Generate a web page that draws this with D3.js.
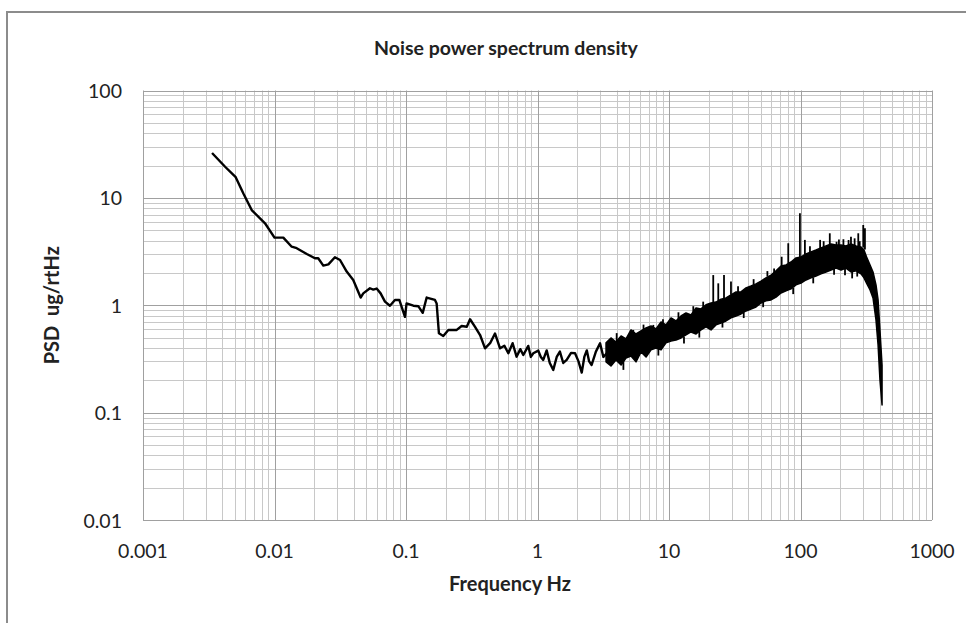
<html>
<head>
<meta charset="utf-8">
<title>Noise power spectrum density</title>
<style>
  body { margin: 0; background: #fff; }
  svg { display: block; }
  text { font-family: Lato, "Liberation Sans", sans-serif; fill: #222; }
</style>
<script src="https://d3js.org/d3.v7.min.js"></script>
</head>
<body>
<script>
// tick labels
var xTickLabels = ["0.001", "0.01", "0.1", "1", "10", "100", "1000"];
var yTickLabels = ["100", "10", "1", "0.1", "0.01"];

// thin part of the trace (Hz, ug/rtHz)
var traceFreq = [0.00335, 0.00421, 0.00507, 0.0058, 0.00671, 0.00847, 0.0100, 0.01167, 0.01352, 0.01475,
  0.0176, 0.0203, 0.0215, 0.0235, 0.0257, 0.0288, 0.0315, 0.0354, 0.0397, 0.0452,
  0.0473, 0.0532, 0.0564, 0.0598, 0.0641, 0.0692, 0.0755, 0.0824, 0.089, 0.0982,
  0.101, 0.1138, 0.124, 0.134, 0.1436, 0.166, 0.171, 0.178, 0.192, 0.210,
  0.243, 0.265, 0.290, 0.307, 0.335, 0.366, 0.399, 0.436, 0.475, 0.519,
  0.56, 0.600, 0.647, 0.693, 0.74, 0.780, 0.851, 0.89, 0.929, 1.014,
  1.06, 1.106, 1.174, 1.24, 1.318, 1.40, 1.48, 1.57, 1.667, 1.80,
  1.93, 2.05, 2.17, 2.27, 2.37, 2.47, 2.58, 2.78, 2.99, 3.17, 3.36];
var tracePsd = [26.2, 19.5, 15.6, 11.0, 7.7, 5.8, 4.26, 4.26, 3.51, 3.40,
  3.0, 2.74, 2.74, 2.34, 2.40, 2.80, 2.64, 2.06, 1.72, 1.18,
  1.29, 1.44, 1.40, 1.43, 1.29, 1.08, 0.99, 1.12, 1.12, 0.78,
  1.04, 0.99, 0.98, 0.85, 1.18, 1.12, 1.04, 0.548, 0.518, 0.589,
  0.589, 0.641, 0.63, 0.741, 0.63, 0.528, 0.397, 0.443, 0.546, 0.397,
  0.42, 0.357, 0.443, 0.332, 0.39, 0.344, 0.418, 0.33, 0.357, 0.378,
  0.33, 0.310, 0.38, 0.29, 0.250, 0.33, 0.37, 0.29, 0.31, 0.36,
  0.357, 0.30, 0.236, 0.33, 0.38, 0.30, 0.278, 0.37, 0.443, 0.33, 0.357];

// noisy band above ~3 Hz: lower and upper envelope
var bandFreq = [3.32, 3.62, 3.95, 4.32, 4.71, 5.14, 5.61, 6.13, 6.69, 7.30,
  7.96, 8.70, 9.49, 10.36, 11.30, 12.34, 13.47, 14.70, 16.05, 17.51,
  19.12, 20.87, 22.77, 24.86, 27.14, 29.62, 32.33, 35.28, 38.52, 42.04,
  45.88, 50.08, 54.65, 59.67, 65.13, 71.09, 77.59, 84.69, 92.44, 100.9,
  110.1, 120.2, 131.2, 143.2, 156.3, 170.6, 186.2, 203.3, 221.8, 242.1,
  264.3, 288.5, 304, 320, 338, 356, 375, 389, 402, 417];
var bandLo = [0.297, 0.272, 0.309, 0.278, 0.323, 0.337, 0.297, 0.367, 0.330, 0.384,
  0.400, 0.384, 0.446, 0.465, 0.475, 0.496, 0.529, 0.564, 0.540, 0.589,
  0.628, 0.589, 0.656, 0.684, 0.714, 0.762, 0.795, 0.830, 0.885, 0.924,
  0.964, 1.05, 1.10, 1.12, 1.19, 1.30, 1.36, 1.42, 1.55, 1.61,
  1.72, 1.80, 1.87, 1.96, 2.04, 2.13, 2.22, 2.13, 2.22, 2.04,
  2.09, 1.96, 1.80, 1.58, 1.39, 1.17, 0.730, 0.427, 0.202, 0.118];
var bandHi = [0.446, 0.496, 0.455, 0.518, 0.486, 0.589, 0.540, 0.576, 0.615, 0.642,
  0.602, 0.699, 0.656, 0.762, 0.714, 0.795, 0.848, 0.812, 0.944, 0.924,
  1.01, 1.05, 1.07, 1.14, 1.17, 1.25, 1.33, 1.33, 1.45, 1.51,
  1.58, 1.68, 1.80, 1.91, 2.09, 2.32, 2.37, 2.53, 2.76, 2.82,
  3.00, 3.14, 3.27, 3.42, 3.57, 3.72, 3.64, 3.64, 3.57, 3.72,
  3.57, 3.49, 3.27, 2.76, 2.37, 2.04, 1.55, 1.12, 0.589, 0.278];

// isolated spikes sticking out of the band (tip below base = dip)
var spikeFreq = [5.35, 7.6, 21.7, 23.7, 26.2, 29.6, 71.9, 80.7, 99, 108, 141, 167, 188, 212, 242, 275, 300, 309,
  4.0, 6.4, 9.0, 11.8, 15.3, 18.2, 33.5, 44, 56, 63, 118, 150, 196, 232, 258, 282,
  4.5, 8.3, 13.0, 17.0, 25.5, 37, 52, 88, 125, 180, 218, 247, 270];
var spikeBase = [0.52, 0.60, 1.05, 1.10, 1.15, 1.25, 2.30, 2.45, 2.80, 3.00, 3.35, 3.65, 3.60, 3.60, 3.70, 3.55, 3.45, 3.30,
  0.46, 0.56, 0.64, 0.74, 0.86, 0.94, 1.32, 1.55, 1.85, 1.95, 3.10, 3.45, 3.62, 3.62, 3.62, 3.50,
  0.30, 0.40, 0.51, 0.57, 0.70, 0.86, 1.08, 1.45, 1.82, 2.18, 2.18, 2.06, 2.05];
var spikePsd = [0.589, 0.656, 1.91, 1.60, 1.91, 1.66, 2.83, 3.78, 7.19, 4.06, 4.06, 4.68, 3.90, 4.12, 4.35, 4.68, 5.59, 5.20,
  0.55, 0.66, 0.74, 0.86, 0.98, 1.08, 1.50, 1.75, 2.08, 2.20, 3.55, 3.95, 4.10, 4.05, 4.20, 3.95,
  0.25, 0.34, 0.44, 0.50, 0.62, 0.76, 0.96, 1.27, 1.60, 1.92, 1.90, 1.78, 1.85];

var W = 966, H = 623;
var plot = {left: 143, right: 932, top: 90.5, bottom: 520};

var svg = d3.select("body").append("svg")
  .attr("width", W)
  .attr("height", H);

// outer chart border (right/bottom edges fall outside the picture)
svg.append("rect")
  .attr("x", 7).attr("y", 12)
  .attr("width", 1000).attr("height", 650)
  .attr("fill", "none")
  .attr("stroke", "#8c8c8c")
  .attr("stroke-width", 2);

var x = d3.scaleLog().domain([0.001, 1000]).range([plot.left, plot.right]);
var y = d3.scaleLog().domain([0.01, 100]).range([plot.bottom, plot.top]);

var crisp = v => Math.round(v) + 0.5;

// grid: minor lines at 2..9 in each decade, then majors on decades
var xDecades = xTickLabels.map(Number);
var yDecades = yTickLabels.map(Number);
var xMinor = [], yMinor = [];
xDecades.slice(0, -1).forEach(d => { for (var k = 2; k < 10; k++) xMinor.push(d * k); });
yDecades.slice(1).forEach(d => { for (var k = 2; k < 10; k++) yMinor.push(d * k); });

var grid = svg.append("g");
grid.selectAll(".xmin").data(xMinor).enter().append("line")
  .attr("x1", d => crisp(x(d))).attr("x2", d => crisp(x(d)))
  .attr("y1", plot.top).attr("y2", plot.bottom)
  .attr("stroke", "#c8c8c8");
grid.selectAll(".ymin").data(yMinor).enter().append("line")
  .attr("y1", d => crisp(y(d))).attr("y2", d => crisp(y(d)))
  .attr("x1", plot.left).attr("x2", plot.right)
  .attr("stroke", "#c8c8c8");
grid.selectAll(".xmaj").data(xDecades).enter().append("line")
  .attr("x1", d => crisp(x(d))).attr("x2", d => crisp(x(d)))
  .attr("y1", plot.top).attr("y2", plot.bottom)
  .attr("stroke", "#a0a0a0");
grid.selectAll(".ymaj").data(yDecades).enter().append("line")
  .attr("y1", d => crisp(y(d))).attr("y2", d => crisp(y(d)))
  .attr("x1", plot.left).attr("x2", plot.right)
  .attr("stroke", "#a0a0a0");

// tick labels
svg.selectAll(".xlab").data(xTickLabels).enter().append("text")
  .attr("x", d => x(+d))
  .attr("y", 558)
  .attr("text-anchor", "middle")
  .style("font-size", "19.5px")
  .text(d => d);
svg.selectAll(".ylab").data(yTickLabels).enter().append("text")
  .attr("x", 122)
  .attr("y", d => y(+d) + 7.5)
  .attr("text-anchor", "end")
  .style("font-size", "19.5px")
  .text(d => d);

// band
var band = bandFreq.map((f, i) => ({f: f, lo: bandLo[i], hi: bandHi[i]}));
svg.append("path")
  .datum(band)
  .attr("d", d3.area().x(d => x(d.f)).y0(d => y(d.lo)).y1(d => y(d.hi)))
  .attr("fill", "#000")
  .attr("stroke", "#000")
  .attr("stroke-width", 1.5)
  .attr("stroke-linejoin", "round");

// spikes
svg.selectAll(".spike").data(spikeFreq).enter().append("line")
  .attr("x1", d => x(d)).attr("x2", d => x(d))
  .attr("y1", (d, i) => y(spikeBase[i]))
  .attr("y2", (d, i) => y(spikePsd[i]))
  .attr("stroke", "#000")
  .attr("stroke-width", 1.8);

// trace
var trace = traceFreq.map((f, i) => [f, tracePsd[i]]);
svg.append("path")
  .datum(trace)
  .attr("d", d3.line().x(d => x(d[0])).y(d => y(d[1])))
  .attr("fill", "none")
  .attr("stroke", "#000")
  .attr("stroke-width", 2.4)
  .attr("stroke-linejoin", "round");

// titles
svg.append("text")
  .attr("x", 506).attr("y", 55)
  .attr("text-anchor", "middle")
  .style("font-size", "19.5px").style("font-weight", "bold")
  .text("Noise power spectrum density");
svg.append("text")
  .attr("x", 510).attr("y", 591)
  .attr("text-anchor", "middle")
  .style("font-size", "20px").style("font-weight", "bold")
  .text("Frequency Hz");
svg.append("text")
  .attr("transform", "translate(59," + ((plot.top + plot.bottom) / 2) + ") rotate(-90)")
  .attr("text-anchor", "middle")
  .style("font-size", "20px").style("font-weight", "bold")
  .style("white-space", "pre")
  .text("PSD  ug/rtHz");
</script>
</body>
</html>
